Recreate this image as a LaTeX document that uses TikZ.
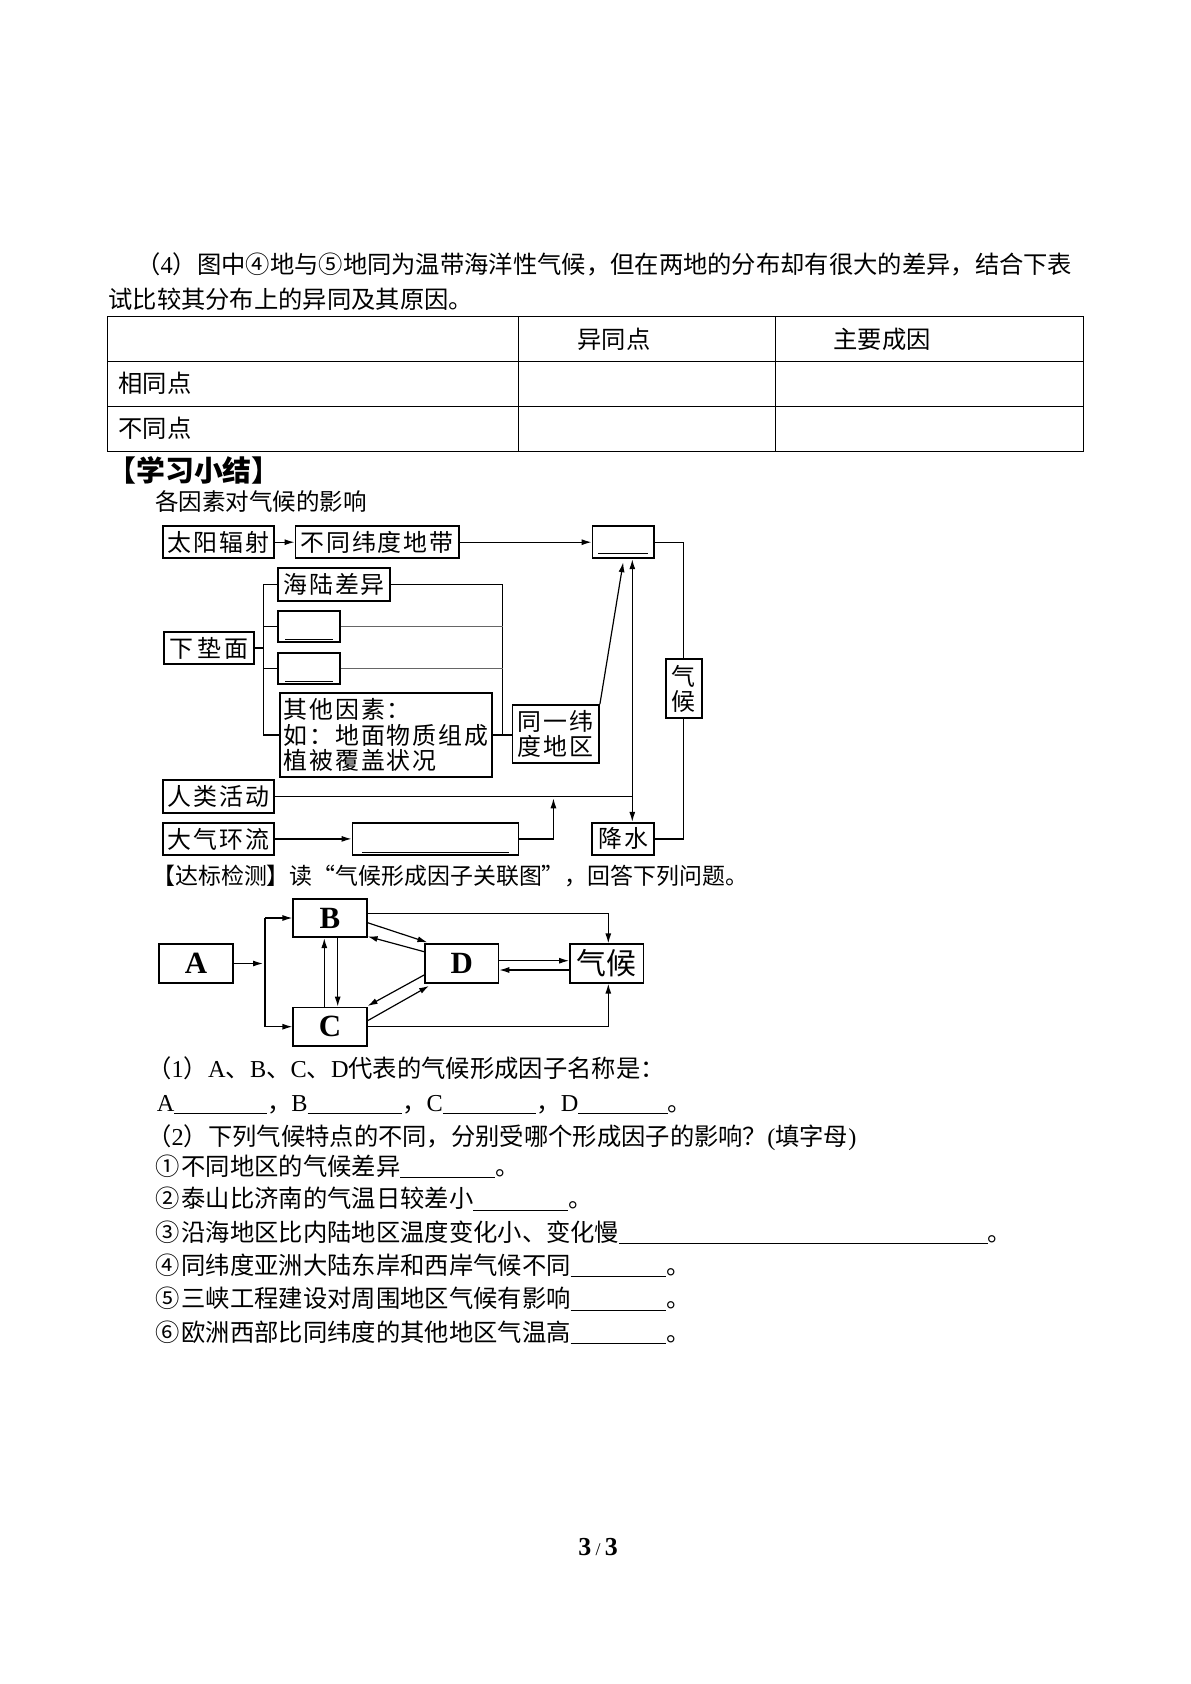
\documentclass[tikz,border=0pt]{standalone}
\usepackage{fontspec}
\setmainfont{Noto Sans CJK SC}
\newfontfamily\tms{Liberation Serif}
\newfontfamily\spc{Noto Sans CJK SC}[LetterSpace=8]
\usetikzlibrary{arrows.meta}
\newcommand\pxu{0.017632cm}
\newcommand\blank[1]{\underline{\hspace{#1}}}

\tikzset{
  txt/.style={inner sep=0pt, anchor=base west, font=\fontsize{12.2}{15}\selectfont},
  wh/.style 2 args={minimum width=#1*\pxu, minimum height=#2*\pxu},
  box/.style={draw, line width=0.9pt, inner sep=0pt, font=\spc\fontsize{12}{12.6}\selectfont},
  gap/.style={box, text height=0pt, text depth=0pt},
  abox/.style={draw, line width=0.9pt, inner sep=0pt, wh={73.4}{38.4}, font=\tms\bfseries\fontsize{15.5}{15.5}\selectfont},
  ln/.style={line width=0.6pt},
  >={Latex[length=5pt,width=3pt]}
}

\begin{document}
\begin{tikzpicture}[x=0.017632cm, y=-0.017637cm]
\fill[white] (0,0) rectangle (1191,1684);

% question text and table
\node[txt] (q4) at (136,274) {（{\tms 4}）图中④地与⑤地同为温带海洋性气候，但在两地的分布却有很大的差异，结合下表};
\node[txt] (q4b) at (108,309) {试比较其分布上的异同及其原因。};
\draw[line width=0.6pt] (107.7,316.7) rectangle (1083.4,451.7);
\draw[line width=0.4pt] (107.7,361) -- (1083.4,361) (107.7,406) -- (1083.4,406)
  (518.3,316.7) -- (518.3,451.7) (775,316.7) -- (775,451.7);
\node[txt, anchor=base] (h1) at (614,349) {异同点};
\node[txt, anchor=base] (h2) at (882,349) {主要成因};
\node[txt] (r1) at (118,392.5) {相同点};
\node[txt] (r2) at (118,437.5) {不同点};

\node[txt, font=\bfseries\fontsize{14.5}{16}\selectfont] (sum) at (107,481) {【学习小结】};
\node[txt, font=\fontsize{11.8}{14}\selectfont] (sumt) at (155,510) {各因素对气候的影响};

% diagram 1
\node[box, wh={110.7}{32.3}] (sun) at (218.5,542.2) {太阳辐射};
\node[box, wh={163.2}{32.3}] (zone) at (377,542.2) {不同纬度地带};
\node[gap, wh={61.5}{32.3}] (heat) at (623.2,542.2) {\raisebox{-4pt}{\blank{25pt}}};
\node[box, wh={111.8}{32.4}] (sea) at (334.1,584.5) {海陆差异};
\node[gap, wh={61.8}{31.6}] (fill1) at (309.1,626.5) {\raisebox{-5pt}{\blank{24pt}}};
\node[gap, wh={61.8}{31.6}] (fill2) at (309.1,668.4) {\raisebox{-5pt}{\blank{24pt}}};
\node[box, wh={89.3}{32.6}] (ground) at (209,648) {下\hspace{2pt}垫\hspace{2pt}面};
\node[box, wh={211.8}{83.4}, align=left] (other) at (385.9,735) {其他因素：\\如：地面物质组成\\植被覆盖状况};
\node[box, wh={86.6}{58.3}, align=left] (lat) at (555.7,734.2) {同一纬\\度地区};
\node[box, wh={110.7}{32.7}] (human) at (218.5,796.3) {人类活动};
\node[box, wh={110.7}{32.3}] (circ) at (218.5,838.9) {大气环流};
\node[gap, wh={166.1}{32.3}] (fill3) at (435.5,838.9) {\raisebox{-5.4pt}{\blank{74pt}}};
\node[box, wh={61.7}{32.3}] (rain) at (623.2,838.9) {降水};
\node[box, wh={36}{59}, align=center] (clim) at (683.7,688.8) {气\\候};

\coordinate (vx) at (632.3,700);
\coordinate (lk) at (263.2,648);
\coordinate (rk) at (502.5,650);
\draw[->, ln] (sun.east) -- (zone.west);
\draw[->, ln] (zone.east) -- (heat.west);
\draw[ln] (heat.east) -| (clim.north);
\draw[ln] (clim.south) |- (rain.east);
\draw[<->, ln] (heat.south -| vx) -- (rain.north -| vx);
\draw[->, ln] (lat.north east) -- ([shift={(0,3)}]heat.south);
\draw[ln] (human.east) -- (human.east -| vx);
\draw[->, ln] (circ.east) -- (fill3.west);
\draw[->, ln] (fill3.east) -- ++(34,0) -- ++(0,-40.6);
\draw[ln] (ground.east) -- (lk);
\draw[ln] (sea.west -| lk) -- (other.west -| lk);
\foreach \n in {sea,fill1,fill2,other}
  \draw[ln] (\n.west -| lk) -- (\n.west);
\draw[ln] (sea.east) -- (sea.east -| rk) -- (other.east -| rk);
\draw[line width=0.4pt, black!60] (fill1.east) -- (fill1.east -| rk);
\draw[line width=0.4pt, black!60] (fill2.east) -- (fill2.east -| rk);
\draw[ln] (other.east) -- (other.east -| lat.west);

% test
\node[txt, font=\fontsize{11.5}{14}\selectfont] (test) at (152,884) {【达标检测】读“气候形成因子关联图”，回答下列问题。};

% diagram 2
\node[abox] (A) at (196,963.5) {A};
\node[abox] (B) at (330,918) {B};
\node[abox] (C) at (330,1026.7) {C};
\node[abox] (D) at (461.7,963.5) {D};
\node[abox, font=\fontsize{15}{15}\selectfont] (K) at (606.7,963.5) {气候};

\coordinate (jn) at (265,963.5);
\draw[->, ln] (A.east) -- ([shift={(-2,0)}]jn);
\draw[ln] (jn |- B.west) -- (jn |- C.west);
\draw[->, ln] (jn |- B.west) -- (B.west);
\draw[->, ln] (jn |- C.west) -- (C.west);
\draw[->, ln] ([shift={(7.7,0)}]B.south) -- ([shift={(7.7,0)}]C.north);
\draw[->, ln] ([shift={(-5.7,0)}]C.north) -- ([shift={(-5.7,0)}]B.south);
\draw[->, ln] ([shift={(0,-4.7)}]B.east) -| ([shift={(1.6,0)}]K.north);
\draw[->, ln] (C.east) -| ([shift={(1.6,0)}]K.south);
\draw[->, ln] ([shift={(0,-2.8)}]D.east) -- ([shift={(0,-2.8)}]K.west);
\draw[->, ln] ([shift={(0,6.5)}]K.west) -- ([shift={(0,6.5)}]D.east);
\draw[->, ln] ([shift={(0,4.7)}]B.east) -- ([shift={(3.3,-1)}]D.north west);
\draw[->, ln] ([shift={(0,-11.8)}]D.west) -- ([shift={(0,-1.7)}]B.south east);
\draw[->, ln] ([shift={(0,11.5)}]D.west) -- ([shift={(0,-0.6)}]C.north east);
\draw[->, ln] ([shift={(0,-6)}]C.east) -- ([shift={(5,2.3)}]D.south west);

% questions
\node[txt] (p1) at (147,1077) {（{\tms 1}）{\tms A}、{\tms B}、{\tms C}、{\tms D}代表的气候形成因子名称是：};
\node[txt] (p1a) at (156.5,1111) {{\tms A}\blank{46.5pt}，{\tms B}\blank{47.5pt}，{\tms C}\blank{47pt}，{\tms D}\blank{45pt}。};
\node[txt] (p2) at (147,1145) {（{\tms 2}）下列气候特点的不同，分别受哪个形成因子的影响？{\tms (}填字母{\tms )}};
\node[txt] (i1) at (155,1175) {①\hspace{1pt}不同地区的气候差异\blank{47.5pt}。};
\node[txt] (i2) at (155,1207.5) {②\hspace{1pt}泰山比济南的气温日较差小\blank{47.5pt}。};
\node[txt] (i3) at (155,1241) {③\hspace{1pt}沿海地区比内陆地区温度变化小、变化慢\blank{185pt}。};
\node[txt] (i4) at (155,1274) {④\hspace{1pt}同纬度亚洲大陆东岸和西岸气候不同\blank{48pt}。};
\node[txt] (i5) at (155,1307.5) {⑤\hspace{1pt}三峡工程建设对周围地区气候有影响\blank{48pt}。};
\node[txt] (i6) at (155,1341) {⑥\hspace{1pt}欧洲西部比同纬度的其他地区气温高\blank{48pt}。};

\node[anchor=base, inner sep=0pt, font=\tms\bfseries\fontsize{13}{13}\selectfont] (pg) at (598,1555) {3\,{\mdseries\fontsize{9}{9}\selectfont/}\,3};
\end{tikzpicture}
\end{document}
